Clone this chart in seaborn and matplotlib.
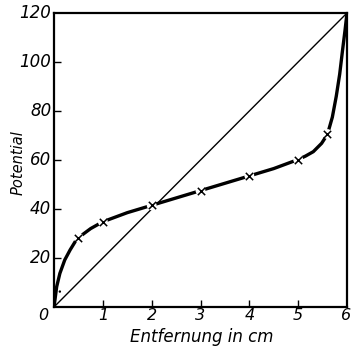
import matplotlib
matplotlib.use("Agg")
import matplotlib.pyplot as plt
import seaborn as sns
import pandas as pd

# Curve
curve_x = [0.0, 0.02, 0.055, 0.12, 0.22, 0.33, 0.45, 0.5, 0.75, 1.0, 1.5, 2.0, 2.5, 3.0,
           3.5, 4.0, 4.5, 5.0, 5.15, 5.31, 5.48, 5.6, 5.7, 5.78, 5.85, 5.91, 5.96, 6.0]
curve_y = [0.0, 3.0, 8.3, 13.7, 19.2, 23.3, 27.2, 28.3, 32.0, 34.8, 38.5, 41.5, 44.5, 47.5,
           50.5, 53.5, 56.5, 60.2, 61.6, 63.4, 66.8, 70.5, 77.5, 86.0, 95.0, 105.0, 113.0, 120.0]
# Measured points (crosses)
meas_x = [0.5, 1.0, 2.0, 3.0, 4.0, 5.0, 5.6]
meas_y = [28.3, 34.8, 41.5, 47.5, 53.6, 60.2, 70.6]
# Straight line (linear potential)
lin_x = [0, 6]
lin_y = [0, 120]
# Small dot near origin
dot_x = [0.12]
dot_y = [6.3]

x_ticks = [1, 2, 3, 4, 5]
y_ticks = [20, 40, 60, 80, 100]
x_labels = ["0", "1", "2", "3", "4", "5", "6"]
y_labels = ["20", "40", "60", "80", "100", "120"]

sns.set_style("white")
plt.rcParams['font.family'] = ['DejaVu Sans']
plt.rcParams['text.color'] = 'black'

fig = plt.figure(figsize=(3.52, 3.46), dpi=100)
ax = fig.add_axes([54/352, 39/346, 293/352, 294/346])

df_c = pd.DataFrame({"x": curve_x, "y": curve_y})
df_l = pd.DataFrame({"x": lin_x, "y": lin_y})
df_m = pd.DataFrame({"x": meas_x, "y": meas_y})
df_d = pd.DataFrame({"x": dot_x, "y": dot_y})

sns.lineplot(data=df_l, x="x", y="y", ax=ax, color="black", lw=1.0, sort=False)
sns.lineplot(data=df_c, x="x", y="y", ax=ax, color="black", lw=2.4, sort=False)
sns.scatterplot(data=df_m, x="x", y="y", ax=ax, marker="o", s=50, color="white",
                edgecolor="none", zorder=4)
sns.scatterplot(data=df_m, x="x", y="y", ax=ax, marker="x", s=28, color="black",
                linewidth=1.1, zorder=5)
sns.scatterplot(data=df_d, x="x", y="y", ax=ax, marker="o", s=3, color="black",
                edgecolor="none", zorder=5)

ax.set_xlim(0, 6)
ax.set_ylim(0, 120)
ax.set_xticks(x_ticks)
ax.set_yticks(y_ticks)
ax.set_xticklabels([])
ax.set_yticklabels([])
ax.tick_params(axis="both", direction="in", length=5, width=1.0, color="black",
               bottom=True, left=True, top=False, right=False)
for s in ax.spines.values():
    s.set_visible(True)
    s.set_color("black")
    s.set_linewidth(1.6)

ax.set_xlabel("")
ax.set_ylabel("")

fs = 11.5
for i, lab in enumerate(x_labels):
    xv = i
    off = -8 if i == 0 else (-1 if i == 6 else 0)
    ax.annotate(lab, xy=(xv, 0), xycoords="data", xytext=(off, -1.0),
                textcoords="offset points", ha="center", va="top",
                fontsize=fs, fontstyle="italic", color="black")
for i, lab in enumerate(y_labels):
    yv = (i + 1) * 20
    ax.annotate(lab, xy=(0, yv), xycoords="data", xytext=(-2, 0),
                textcoords="offset points", ha="right", va="center",
                fontsize=12, fontstyle="italic", color="black")

fig.text(202/352, 1 - 337/346, "Entfernung in cm", ha="center", va="center",
         fontsize=12, fontstyle="italic", color="black")
fig.text(18/352, 1 - 163/346, "Potential", ha="center", va="center",
         rotation=90, fontsize=10.5, fontstyle="italic", color="black")

fig.savefig("out.png", dpi=100, facecolor="white")
